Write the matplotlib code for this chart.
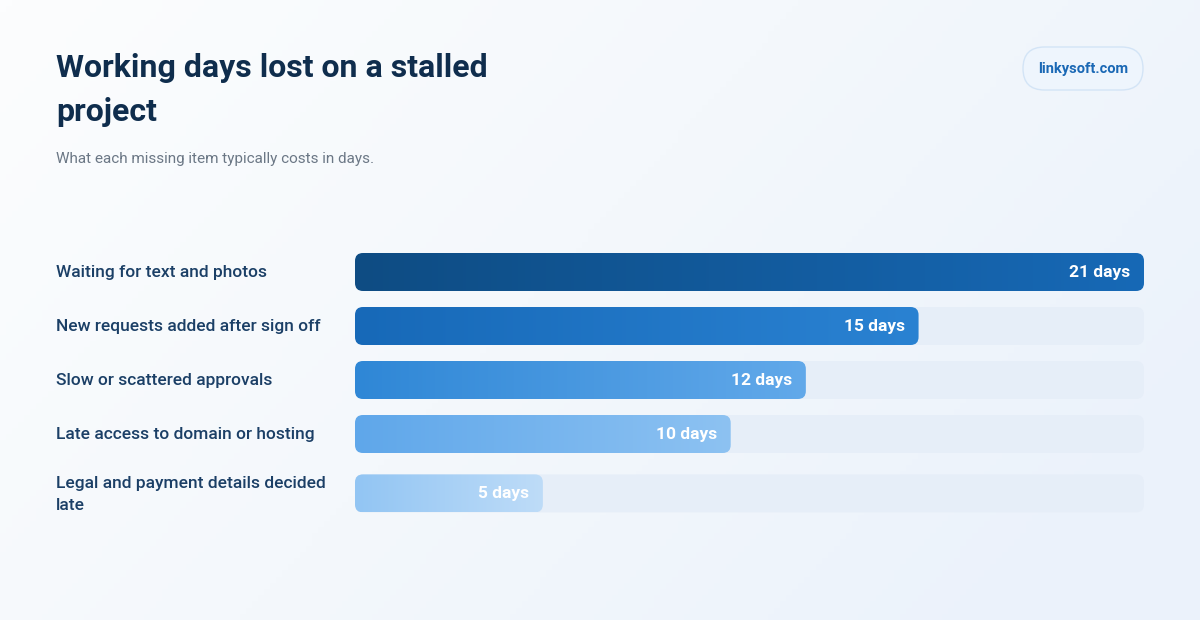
import matplotlib.pyplot as plt
import numpy as np
from matplotlib.patches import FancyBboxPatch
from matplotlib.colors import LinearSegmentedColormap

categories = [
    "Waiting for text and photos",
    "New requests added after sign off",
    "Slow or scattered approvals",
    "Late access to domain or hosting",
    "Legal and payment details decided\nlate",
]
days = [21, 15, 12, 10, 5]
value_labels = ["21 days", "15 days", "12 days", "10 days", "5 days"]
bar_colors = [
    ("#0e4c83", "#1769b6"),
    ("#1769b8", "#2a82d2"),
    ("#2f87d6", "#62a9ea"),
    ("#5fa7ea", "#8dc2f2"),
    ("#92c5f3", "#bedcf8"),
]
x_max = 21

plt.rcParams["font.family"] = ["Roboto", "DejaVu Sans"]

W, H = 1200, 620
fig = plt.figure(figsize=(12, 6.2), dpi=100)

# background gradient
bg = fig.add_axes([0, 0, 1, 1])
gx, gy = np.meshgrid(np.linspace(0, 1, 200), np.linspace(0, 1, 100))
t = np.clip(0.75 * gx + 0.35 * gy, 0, 1)
bg_cmap = LinearSegmentedColormap.from_list("bg", ["#fcfdfe", "#f4f8fc", "#ebf2fb"])
bg.imshow(t, cmap=bg_cmap, extent=[0, W, H, 0], aspect="auto", vmin=0, vmax=1)
bg.set_xlim(0, W)
bg.set_ylim(H, 0)
bg.axis("off")

# title / subtitle
bg.text(56, 90, "Working days lost on a stalled\nproject", fontsize=23, fontweight="bold",
        color="#0f2d4d", va="center", ha="left", linespacing=1.55)
bg.text(56, 159, "What each missing item typically costs in days.", fontsize=11,
        color="#6b7785", va="center", ha="left")

# pill
pill = FancyBboxPatch((1023, 47), 120, 43, boxstyle="round,pad=0,rounding_size=21.5",
                      facecolor="#eef5fd", edgecolor="#d3e4f6", linewidth=1)
bg.add_patch(pill)
bg.text(1083, 69, "linkysoft.com", fontsize=10.5, fontweight="bold", color="#1a68b5",
        ha="center", va="center")

# bar area
left_px, right_px = 355, 1144
top_px, bot_px = 240, 530
row_px = 54
bar_h = 38 / row_px
ax = fig.add_axes([left_px / W, (H - bot_px) / H, (right_px - left_px) / W, (bot_px - top_px) / H])
ax.set_xlim(0, x_max)
ax.set_ylim((bot_px - 272) / row_px, (top_px - 272) / row_px)
ax.axis("off")

x_scale = (right_px - left_px) / x_max
r_x = 8 / x_scale
aspect = (8 / row_px) / r_x

for i, (cat, v, lab, (c0, c1)) in enumerate(zip(categories, days, value_labels, bar_colors)):
    y = i + (0.1 if "\n" in cat else 0)
    track = FancyBboxPatch((0, y - bar_h / 2), x_max, bar_h,
                           boxstyle=f"round,pad=0,rounding_size={r_x}",
                           mutation_aspect=aspect, facecolor="#e6eef8", edgecolor="none", zorder=1)
    ax.add_patch(track)
    box = FancyBboxPatch((0, y - bar_h / 2), v, bar_h,
                         boxstyle=f"round,pad=0,rounding_size={r_x}",
                         mutation_aspect=aspect, facecolor="none", edgecolor="none", zorder=2)
    ax.add_patch(box)
    cmap = LinearSegmentedColormap.from_list(f"b{i}", [c0, c1])
    im = ax.imshow(np.linspace(0, 1, 256).reshape(1, -1), cmap=cmap, aspect="auto",
                   extent=[0, v, y + bar_h / 2, y - bar_h / 2], zorder=2)
    im.set_clip_path(box)
    ax.text(v - 14 / x_scale, y, lab, fontsize=12.5, fontweight="bold", color="white",
            ha="right", va="center", zorder=3)
    # category label
    y_pix = 272 + y * row_px
    bg.text(56, y_pix + 1, cat, fontsize=12.5, fontweight="medium", color="#1b3f66",
            ha="left", va="center", linespacing=1.6)

ax.set_xlim(0, x_max)
ax.set_ylim((bot_px - 272) / row_px, (top_px - 272) / row_px)

fig.savefig("out.png", dpi=100)
